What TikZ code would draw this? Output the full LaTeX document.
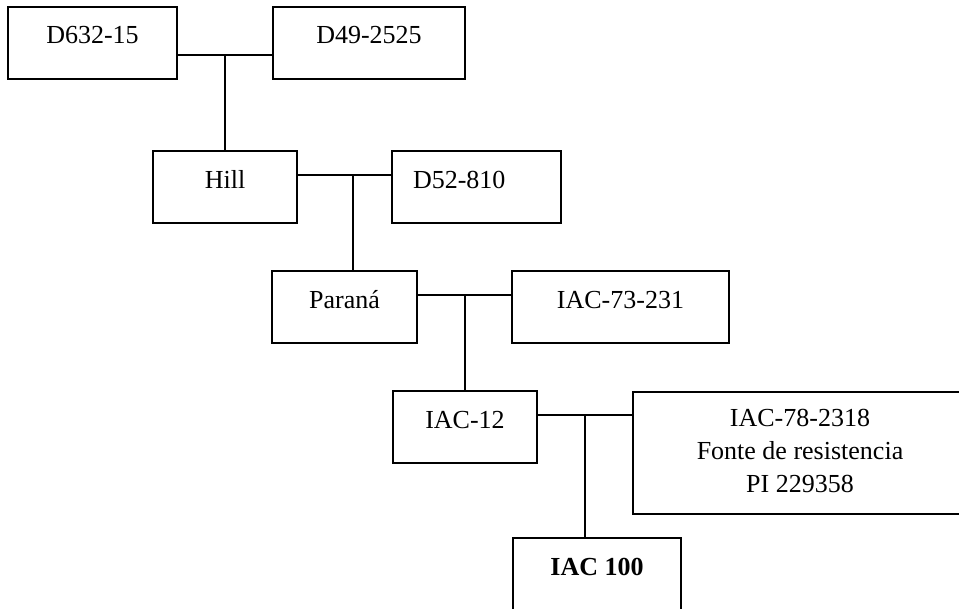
\documentclass[tikz,border=0pt]{standalone}
\usepackage{fontspec}
\setmainfont{Liberation Serif}

\begin{document}
\begin{tikzpicture}[x=0.02cm, y=-0.02cm, line width=1.1pt,
  cultivar/.style={draw, inner xsep=0pt, inner ysep=0pt, text height=0.74cm, text depth=0.7cm,
    font=\fontsize{14.8pt}{18.5pt}\selectfont},
  link/.style={draw}]
  \clip (0,0) rectangle (959,608);
  \node[cultivar, minimum width=3.38cm] (d632) at (92.5,43) {D632-15};
  \node[cultivar, minimum width=3.84cm] (d49) at (369,43) {D49-2525};
  \node[cultivar, minimum width=2.88cm] (hill) at (225,187) {Hill};
  \node[cultivar, inner xsep=0.42cm, text width=2.54cm, align=left] (d52) at (476.5,187) {D52-810};
  \node[cultivar, minimum width=2.9cm] (parana) at (344.5,307) {Paraná};
  \node[cultivar, minimum width=4.34cm] (iac73) at (620.5,307) {IAC-73-231};
  \node[cultivar, minimum width=2.88cm] (iac12) at (465,427) {IAC-12};
  \node[cultivar, minimum width=6.68cm, align=center, text height=2.0cm, text depth=0.44cm] (iac78) at (800,453)
    {IAC-78-2318\\Fonte de resistencia\\PI 229358};
  \node[cultivar, minimum width=3.36cm] (iac100) at (597,574) {\textbf{IAC 100}};
  \coordinate (j1) at (225,55);
  \coordinate (j2) at (353,175);
  \coordinate (j3) at (465,295);
  \coordinate (j4) at (585,415);
  \path[link]
  (d632.east |- j1) -- (d49.west |- j1)
  (j1) -- (hill.north)
  (hill.east |- j2) -- (d52.west |- j2)
  (j2) -- (j2 |- parana.north)
  (parana.east |- j3) -- (iac73.west |- j3)
  (j3) -- (j3 |- iac12.north)
  (iac12.east |- j4) -- (iac78.west |- j4)
  (j4) -- (j4 |- iac100.north)
  ;
\end{tikzpicture}
\end{document}
